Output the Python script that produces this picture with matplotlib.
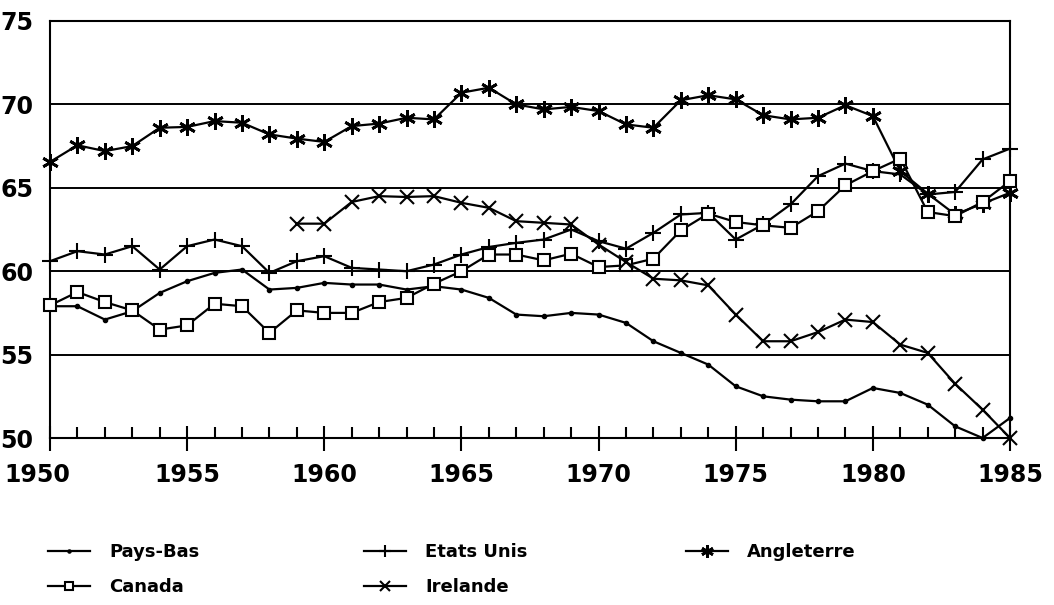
import numpy as np
import matplotlib
matplotlib.use("Agg")
import matplotlib.pyplot as plt
import matplotlib.transforms as mtransforms
from matplotlib.ticker import MultipleLocator

years = np.arange(1950, 1986)
years_irl = np.arange(1959, 1986)

pays_bas = [57.9, 57.9, 57.1, 57.6, 58.7, 59.4, 59.9, 60.1, 58.9, 59.0,
            59.3, 59.2, 59.2, 58.9, 59.1, 58.9, 58.4, 57.4, 57.3, 57.5,
            57.4, 56.9, 55.8, 55.1, 54.4, 53.1, 52.5, 52.3, 52.2, 52.2,
            53.0, 52.7, 52.0, 50.7, 50.0, 51.2]
etats_unis = [60.6, 61.2, 61.0, 61.5, 60.1, 61.5, 61.9, 61.5, 59.9, 60.6,
              60.9, 60.2, 60.1, 60.0, 60.4, 61.0, 61.45, 61.7, 61.9, 62.5,
              61.8, 61.35, 62.3, 63.4, 63.5, 61.9, 62.8, 64.0, 65.7, 66.45,
              66.0, 65.8, 64.6, 64.75, 66.7, 67.35]
angleterre = [66.55, 67.55, 67.2, 67.5, 68.6, 68.65, 69.0, 68.9, 68.2, 67.95,
              67.75, 68.7, 68.85, 69.2, 69.1, 70.7, 71.0, 70.0, 69.7, 69.85,
              69.6, 68.8, 68.6, 70.25, 70.55, 70.3, 69.35, 69.1, 69.2, 69.95,
              69.3, 66.0, 64.65, 63.4, 64.05, 64.7]
canada = [57.95, 58.75, 58.15, 57.65, 56.5, 56.75, 58.05, 57.9, 56.3, 57.65,
          57.5, 57.5, 58.15, 58.4, 59.25, 60.0, 61.0, 61.0, 60.65, 61.05,
          60.25, 60.35, 60.75, 62.45, 63.45, 62.95, 62.75, 62.6, 63.6, 65.15,
          66.0, 66.75, 63.55, 63.3, 64.15, 65.4]
irelande = [62.85, 62.85, 64.15, 64.5, 64.45, 64.5, 64.1, 63.8, 63.0, 62.9,
            62.8, 61.6, 60.55, 59.55, 59.45, 59.15, 57.4, 55.8, 55.8, 56.35,
            57.1, 56.95, 55.6, 55.1, 53.25, 51.7, 50.0]

fig = plt.figure(figsize=(10.54, 6.05), dpi=100)
ax = fig.add_axes([50/1054, 1 - 438/605, 960/1054, 417/605])

kw = dict(color="black", lw=1.6, clip_on=False, zorder=3)
l_pb, = ax.plot(years, pays_bas, marker="o", ms=3, label="Pays-Bas", **kw)
l_us, = ax.plot(years, etats_unis, marker="+", ms=12, mew=1.5, label="Etats Unis", **kw)
l_an, = ax.plot(years, angleterre, marker=(6, 2, 0), ms=12, mew=2, label="Angleterre", **kw)
l_ca, = ax.plot(years, canada, marker="s", ms=8.5, mew=1.5, mfc="white", label="Canada", **kw)
l_ir, = ax.plot(years_irl, irelande, marker="x", ms=10, mew=1.5, label="Irelande", **kw)

ax.set_xlim(1950, 1985)
ax.set_ylim(50, 75)
ax.set_yticks([50, 55, 60, 65, 70, 75])
ax.set_xticks(range(1950, 1986, 5))
ax.xaxis.set_minor_locator(MultipleLocator(1))
for y in [55, 60, 65, 70]:
    ax.axhline(y, color="black", lw=1.4, zorder=1)

for s in ax.spines.values():
    s.set_linewidth(1.5)

ax.tick_params(axis="y", length=0, pad=12, labelsize=17)
ax.tick_params(axis="x", which="major", direction="inout", length=18, width=1.5,
               pad=9, labelsize=17)
ax.tick_params(axis="x", which="minor", direction="in", length=8, width=1.5)
for lab in ax.get_xticklabels() + ax.get_yticklabels():
    lab.set_fontweight("bold")
first = ax.get_xticklabels()[0]
first.set_transform(first.get_transform() +
                    mtransforms.ScaledTranslation(-0.13, 0, fig.dpi_scale_trans))

leg_kw = dict(frameon=False, handlelength=2.3, handletextpad=1.1,
              labelspacing=0.95, borderaxespad=0, borderpad=0, markerscale=0.75,
              prop={"weight": "bold", "size": 13}, loc="upper left")
fig.legend(handles=[l_pb, l_ca], bbox_to_anchor=(48/1054, 1 - 543/605), **leg_kw)
fig.legend(handles=[l_us, l_ir], bbox_to_anchor=(364/1054, 1 - 543/605), **leg_kw)
fig.legend(handles=[l_an], bbox_to_anchor=(686/1054, 1 - 543/605), **leg_kw)

fig.savefig("out.png", dpi=100)
